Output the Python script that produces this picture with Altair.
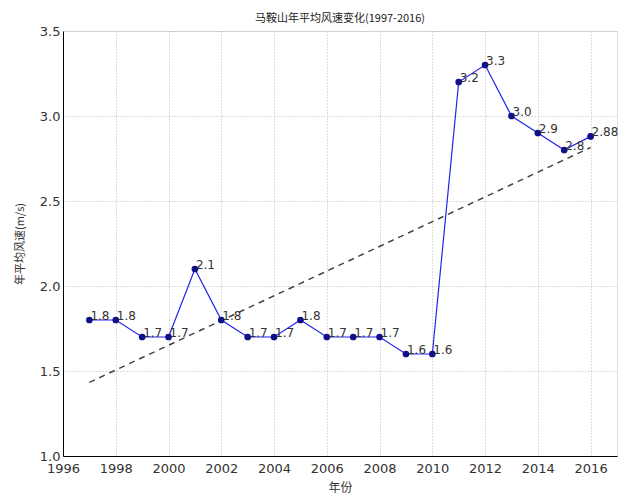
import altair as alt
import pandas as pd

years = [1997, 1998, 1999, 2000, 2001, 2002, 2003, 2004, 2005, 2006,
         2007, 2008, 2009, 2010, 2011, 2012, 2013, 2014, 2015, 2016]
speeds = [1.8, 1.8, 1.7, 1.7, 2.1, 1.8, 1.7, 1.7, 1.8, 1.7,
          1.7, 1.7, 1.6, 1.6, 3.2, 3.3, 3.0, 2.9, 2.8, 2.88]
labels = ["1.8", "1.8", "1.7", "1.7", "2.1", "1.8", "1.7", "1.7", "1.8", "1.7",
          "1.7", "1.7", "1.6", "1.6", "3.2", "3.3", "3.0", "2.9", "2.8", "2.88"]
x_ticks = [1996, 1998, 2000, 2002, 2004, 2006, 2008, 2010, 2012, 2014, 2016]
y_ticks = [1.0, 1.5, 2.0, 2.5, 3.0, 3.5]

df = pd.DataFrame({"year": years, "speed": speeds, "label": labels})

FONT = "DejaVu Sans"
CJK = "Noto Sans CJK SC"

x_enc = alt.X("year:Q", scale=alt.Scale(domain=[1996, 2017], nice=False, zero=False),
              axis=alt.Axis(values=x_ticks, format="d", title="年份",
                            titleFont=CJK, titleFontSize=12, titleFontWeight="normal",
                            titleColor="#333", titlePadding=7,
                            labelFont=FONT, labelFontSize=13, labelColor="#333",
                            labelPadding=6, tickSize=0, domainColor="black",
                            grid=True, gridColor="#bbbbbb", gridDash=[1, 2],
                            labelFlush=False))
y_enc = alt.Y("speed:Q", scale=alt.Scale(domain=[1.0, 3.5], nice=False, zero=False),
              axis=alt.Axis(values=y_ticks, format=".1f", title="年平均风速(m/s)",
                            titleFont=CJK, titleFontSize=11, titleFontWeight="normal",
                            titleColor="#333", titlePadding=14,
                            labelFont=FONT, labelFontSize=13, labelColor="#333",
                            labelPadding=3, tickSize=0, domainColor="black",
                            grid=True, gridColor="#bbbbbb", gridDash=[1, 2],
                            labelFlush=False))

base = alt.Chart(df)

trend = base.transform_regression("year", "speed").mark_line(
    color="#444444", strokeDash=[6, 5], strokeWidth=1.5
).encode(x=x_enc, y=y_enc)

line = base.mark_line(color="#2222ee", strokeWidth=1.2).encode(x=x_enc, y=y_enc)

pts = base.mark_circle(color="#10108a", size=45, opacity=1).encode(x=x_enc, y=y_enc)

txt = base.mark_text(align="left", baseline="alphabetic", dx=1, dy=0,
                     font=FONT, fontSize=12, color="#333333").encode(
    x=x_enc, y=y_enc, text="label:N")

chart = alt.layer(trend, line, pts, txt).properties(
    width=554, height=425,
    title=alt.TitleParams("马鞍山年平均风速变化(1997-2016)", font=CJK, fontSize=11,
                          fontWeight="normal", color="#222", anchor="middle", offset=1),
    autosize=alt.AutoSizeParams(type="none"),
    padding={"left": 55, "top": 23, "right": 2, "bottom": 39},
).configure_view(stroke="black", strokeWidth=1.2).configure(background="white")

chart.save("out.html", embed_options={"renderer": "svg", "actions": False})
